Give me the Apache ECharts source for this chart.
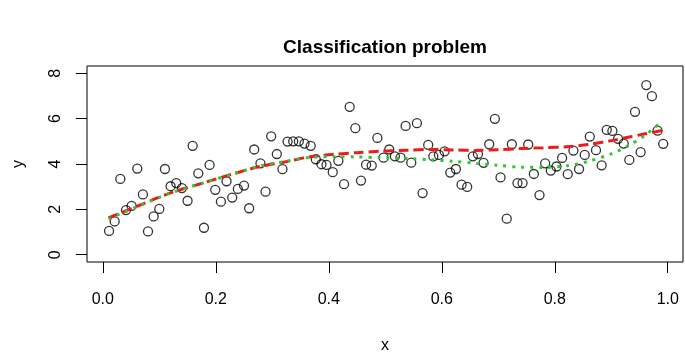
<!DOCTYPE html>
<html>
<head>
<meta charset="utf-8">
<title>Classification problem</title>
<script src="https://cdn.jsdelivr.net/npm/echarts@6.0.0/dist/echarts.min.js"></script>
<style>
  html, body { margin: 0; padding: 0; background: #fff; }
  #chart { width: 685px; height: 356px; }
</style>
</head>
<body>
<div id="chart"></div>
<script>
// points
const xValues = [
  0.011, 0.021, 0.031, 0.041, 0.051, 0.061, 0.071, 0.080, 0.090, 0.100,
  0.110, 0.120, 0.130, 0.140, 0.150, 0.159, 0.169, 0.179, 0.189, 0.199,
  0.209, 0.219, 0.229, 0.239, 0.250, 0.259, 0.268, 0.279, 0.288, 0.298,
  0.308, 0.318, 0.327, 0.337, 0.347, 0.357, 0.368, 0.377, 0.387, 0.396,
  0.407, 0.417, 0.427, 0.437, 0.447, 0.457, 0.466, 0.476, 0.486, 0.497,
  0.507, 0.517, 0.527, 0.536, 0.546, 0.556, 0.566, 0.576, 0.585, 0.595,
  0.605, 0.615, 0.625, 0.635, 0.645, 0.655, 0.664, 0.674, 0.684, 0.694,
  0.704, 0.715, 0.724, 0.734, 0.743, 0.753, 0.763, 0.773, 0.783, 0.793,
  0.803, 0.813, 0.823, 0.833, 0.843, 0.853, 0.862, 0.873, 0.883, 0.892,
  0.902, 0.912, 0.922, 0.932, 0.942, 0.952, 0.962, 0.972, 0.982, 0.992
];
const yValues = [
  1.05, 1.47, 3.34, 1.97, 2.15, 3.80, 2.66, 1.03, 1.69, 2.02,
  3.78, 3.02, 3.16, 2.94, 2.38, 4.80, 3.59, 1.19, 3.96, 2.86,
  2.34, 3.24, 2.52, 2.90, 3.05, 2.05, 4.64, 4.03, 2.78, 5.22,
  4.44, 3.77, 4.99, 5.00, 5.00, 4.90, 4.80, 4.21, 3.99, 3.96,
  3.64, 4.14, 3.11, 6.52, 5.58, 3.27, 3.97, 3.93, 5.15, 4.28,
  4.64, 4.34, 4.28, 5.68, 4.06, 5.80, 2.72, 4.84, 4.34, 4.40,
  4.56, 3.62, 3.78, 3.09, 2.99, 4.34, 4.44, 4.05, 4.87, 5.99,
  3.41, 1.59, 4.87, 3.16, 3.16, 4.86, 3.56, 2.63, 4.03, 3.71,
  3.89, 4.27, 3.55, 4.59, 3.78, 4.40, 5.21, 4.61, 3.94, 5.50,
  5.46, 5.11, 4.90, 4.18, 6.30, 4.52, 7.48, 6.99, 5.47, 4.89
];

// the two fitted curves
const curveX = [0.01, 0.06, 0.12, 0.18, 0.23, 0.28, 0.32, 0.37, 0.41, 0.45, 0.49, 0.54,
  0.58, 0.62, 0.66, 0.70, 0.74, 0.78, 0.82, 0.86, 0.90, 0.93, 0.96, 0.99];
const redY = [1.62, 2.13, 2.73, 3.18, 3.56, 3.90, 4.08, 4.33, 4.43, 4.50, 4.56, 4.61,
  4.64, 4.62, 4.60, 4.63, 4.68, 4.72, 4.76, 4.86, 5.03, 5.18, 5.33, 5.48];
const greenY = [1.58, 2.11, 2.72, 3.18, 3.56, 3.92, 4.10, 4.30, 4.32, 4.31, 4.28, 4.24,
  4.19, 4.12, 4.03, 3.94, 3.86, 3.85, 3.92, 4.12, 4.45, 4.80, 5.27, 5.88];

const xTicks = [0, 0.2, 0.4, 0.6, 0.8, 1.0];
const yTicks = [0, 2, 4, 6, 8];

const font = 'Liberation Sans, Arial, sans-serif';

const chart = echarts.init(document.getElementById('chart'));

chart.setOption({
  animation: false,
  backgroundColor: '#fff',
  graphic: [
    {
      type: 'text',
      x: 385,
      y: 48,
      style: {
        text: 'Classification problem',
        font: 'bold 19px ' + font,
        fill: '#000',
        align: 'center',
        verticalAlign: 'middle'
      }
    }
  ],
  grid: {
    left: 87,
    right: 2,
    top: 66,
    bottom: 94,
    containLabel: false,
    outerBoundsMode: 'none',
    show: true,
    borderColor: '#000',
    borderWidth: 1
  },
  xAxis: {
    type: 'value',
    min: -0.028,
    max: 1.027,
    name: 'x',
    nameLocation: 'middle',
    nameGap: 76,
    nameTextStyle: { color: '#000', fontSize: 16, fontFamily: font },
    axisLine: { show: false, onZero: false },
    axisTick: {
      show: true,
      length: 11,
      customValues: xTicks,
      lineStyle: { color: '#000', width: 1 }
    },
    axisLabel: {
      customValues: xTicks,
      margin: 30,
      color: '#000',
      fontSize: 16,
      fontFamily: font,
      formatter: v => v.toFixed(1)
    },
    splitLine: { show: false }
  },
  yAxis: {
    type: 'value',
    min: -0.32,
    max: 8.32,
    name: 'y',
    nameLocation: 'middle',
    nameRotate: 90,
    nameGap: 60,
    nameTextStyle: { color: '#000', fontSize: 16, fontFamily: font },
    axisLine: { show: false, onZero: false },
    axisTick: {
      show: true,
      length: 11,
      customValues: yTicks,
      lineStyle: { color: '#000', width: 1 }
    },
    axisLabel: {
      customValues: yTicks,
      rotate: 90,
      margin: 23,
      color: '#000',
      fontSize: 16,
      fontFamily: font
    },
    splitLine: { show: false }
  },
  series: [
    {
      type: 'scatter',
      data: xValues.map((x, i) => [x, yValues[i]]),
      symbol: 'circle',
      symbolSize: 9,
      itemStyle: {
        color: 'rgba(0,0,0,0)',
        borderColor: '#000',
        borderWidth: 1.3
      }
    },
    {
      type: 'line',
      data: curveX.map((x, i) => [x, redY[i]]),
      showSymbol: false,
      smooth: 0.3,
      lineStyle: { color: '#ee1b1b', width: 3, type: [10, 5] }
    },
    {
      type: 'line',
      data: curveX.map((x, i) => [x, greenY[i]]),
      showSymbol: false,
      smooth: 0.3,
      lineStyle: { color: '#33c433', width: 3, type: [3, 6] }
    }
  ]
});
</script>
</body>
</html>
